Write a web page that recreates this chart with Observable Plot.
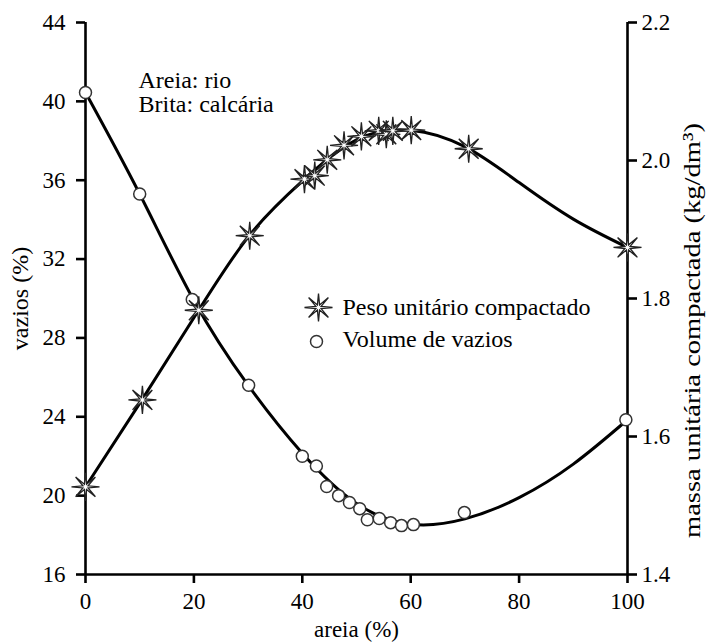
<!DOCTYPE html>
<html>
<head>
<meta charset="utf-8">
<script src="https://cdn.jsdelivr.net/npm/d3@7"></script>
<script src="https://cdn.jsdelivr.net/npm/@observablehq/plot@0.6"></script>
<style>
  html, body { margin: 0; padding: 0; background: #fff; }
  #chart { width: 708px; height: 644px; }
  #chart svg, #chart svg text { font-family: 'Liberation Serif', 'Times New Roman', serif !important; }
</style>
</head>
<body>
<div id="chart"></div>
<script>
// ---- data ----
const areiaVazios = [0, 10, 19.7, 30.1, 40, 42.6, 44.5, 46.7, 48.7, 50.6, 52, 54.2, 56.3, 58.3, 60.5, 69.9, 99.7];
const vazios      = [40.45, 35.3, 29.95, 25.6, 22.0, 21.5, 20.46, 20.0, 19.65, 19.34, 18.78, 18.84, 18.63, 18.48, 18.53, 19.14, 23.85];

const areiaPeso = [0, 10.5, 20.9, 30.3, 40.4, 42.3, 44.6, 47.7, 50.9, 54.1, 55.5, 56.7, 60.1, 70.7, 100];
const massa     = [1.527, 1.653, 1.783, 1.891, 1.973, 1.978, 2.001, 2.022, 2.035, 2.043, 2.038, 2.043, 2.044, 2.017, 1.874];

// fitted curves
const fitAreia  = [0, 10, 20, 30, 40, 50, 60, 70, 80, 90, 100];
const fitVazios = [40.45, 35.3, 29.9, 25.6, 22.15, 19.6, 18.55, 18.82, 19.9, 21.6, 23.85];
const fitMassa  = [1.527, 1.648, 1.772, 1.889, 1.970, 2.030, 2.044, 2.020, 1.968, 1.915, 1.874];

const xTicks      = [0, 20, 40, 60, 80, 100];
const leftTicks   = [16, 20, 24, 28, 32, 36, 40, 44];
const rightTicks  = [1.4, 1.6, 1.8, 2.0, 2.2];

const xLabel     = "areia (%)";
const leftLabel  = "vazios (%)";
const rightLabel = "massa unitária compactada (kg/dm³)";
const legendLabels = ["Peso unitário compactado", "Volume de vazios"];
const notes = ["Areia: rio", "Brita: calcária"];

// right axis (1.4–2.2) maps onto left axis (16–44)
const toLeft = m => 16 + (m - 1.4) * 35;

const vazTable  = areiaVazios.map((a, i) => ({a, v: vazios[i]}));
const pesoTable = areiaPeso.map((a, i) => ({a, v: toLeft(massa[i])}));
const fitVazTable  = fitAreia.map((a, i) => ({a, v: fitVazios[i]}));
const fitPesoTable = fitAreia.map((a, i) => ({a, v: toLeft(fitMassa[i])}));

// 8-pointed star symbol
const star8 = {
  draw(context, size) {
    const R = Math.sqrt(size / Math.PI);
    const r = R * 0.2;
    for (let k = 0; k < 16; k++) {
      const ang = -Math.PI / 2 + k * Math.PI / 8;
      const rad = k % 2 === 0 ? R : r;
      const px = rad * Math.cos(ang), py = rad * Math.sin(ang);
      if (k === 0) context.moveTo(px, py); else context.lineTo(px, py);
    }
    context.closePath();
  }
};

const font = "'Liberation Serif', 'Times New Roman', serif";
const axisW = 2.6;
const tickFont = 23;
const textFont = 24;

const chart = Plot.plot({
  width: 708,
  height: 644,
  marginLeft: 85,
  marginRight: 81,
  marginTop: 22,
  marginBottom: 70,
  style: {fontFamily: font, fontSize: "23px", color: "black", background: "white"},
  x: {domain: [0, 100]},
  y: {domain: [16, 44]},
  marks: [
    // axis lines
    Plot.ruleX([0, 100], {stroke: "black", strokeWidth: axisW}),
    Plot.ruleY([16], {stroke: "black", strokeWidth: axisW}),
    Plot.axisX({ticks: xTicks, tickSize: 9, tickPadding: 9, strokeWidth: axisW, label: null, fontSize: tickFont, fontFamily: font}),
    Plot.axisY({anchor: "left", ticks: leftTicks, tickSize: 9, tickPadding: 11, strokeWidth: axisW, label: null, fontSize: tickFont, fontFamily: font}),
    Plot.axisY({anchor: "right", ticks: rightTicks.map(toLeft), tickFormat: v => d3.format(".1f")(1.4 + (v - 16) / 35),
      tickSize: 9, tickPadding: 5, strokeWidth: axisW, label: null, fontSize: tickFont, fontFamily: font}),
    // axis titles
    Plot.text([xLabel], {frameAnchor: "bottom", dy: 55, textAnchor: "middle", lineAnchor: "middle", fontSize: 23, fontFamily: font}),
    Plot.text([leftLabel], {frameAnchor: "left", dx: -65, textAnchor: "middle", lineAnchor: "middle", rotate: -90, fontSize: textFont, fontFamily: font}),
    Plot.text([rightLabel], {frameAnchor: "right", dx: 65, dy: 32, textAnchor: "middle", lineAnchor: "middle", rotate: -90, fontSize: textFont, fontFamily: font}),
    // fitted curves
    Plot.line(fitVazTable, {x: "a", y: "v", curve: "natural", stroke: "black", strokeWidth: 3}),
    Plot.line(fitPesoTable, {x: "a", y: "v", curve: "natural", stroke: "black", strokeWidth: 3}),
    // points
    Plot.dot(vazTable, {x: "a", y: "v", r: 6, fill: "white", stroke: "#333", strokeWidth: 1.5}),
    Plot.dot(pesoTable, {x: "a", y: "v", r: 14, symbol: star8, fill: "white", stroke: "#222", strokeWidth: 1.3}),
    // legend
    Plot.dot([0], {frameAnchor: "top-left", dx: 233, dy: 285, r: 14, symbol: star8, fill: "white", stroke: "#222", strokeWidth: 1.3}),
    Plot.dot([0], {frameAnchor: "top-left", dx: 231, dy: 319, r: 6, fill: "white", stroke: "#333", strokeWidth: 1.5}),
    Plot.text([legendLabels[0]], {frameAnchor: "top-left", dx: 257, dy: 285, textAnchor: "start", lineAnchor: "middle", fontSize: textFont, fontFamily: font}),
    Plot.text([legendLabels[1]], {frameAnchor: "top-left", dx: 257, dy: 317, textAnchor: "start", lineAnchor: "middle", fontSize: textFont, fontFamily: font}),
    // annotation
    Plot.text([notes[0]], {frameAnchor: "top-left", dx: 53, dy: 58, textAnchor: "start", lineAnchor: "middle", fontSize: textFont, fontFamily: font}),
    Plot.text([notes[1]], {frameAnchor: "top-left", dx: 53, dy: 82, textAnchor: "start", lineAnchor: "middle", fontSize: textFont, fontFamily: font})
  ]
});
document.getElementById("chart").appendChild(chart);
// stretch the right-hand title along its length as in the reference
const rt = Array.from(chart.querySelectorAll("text")).find(t => t.textContent === rightLabel);
if (rt) { rt.setAttribute("textLength", 415); rt.setAttribute("lengthAdjust", "spacingAndGlyphs"); }
</script>
</body>
</html>
